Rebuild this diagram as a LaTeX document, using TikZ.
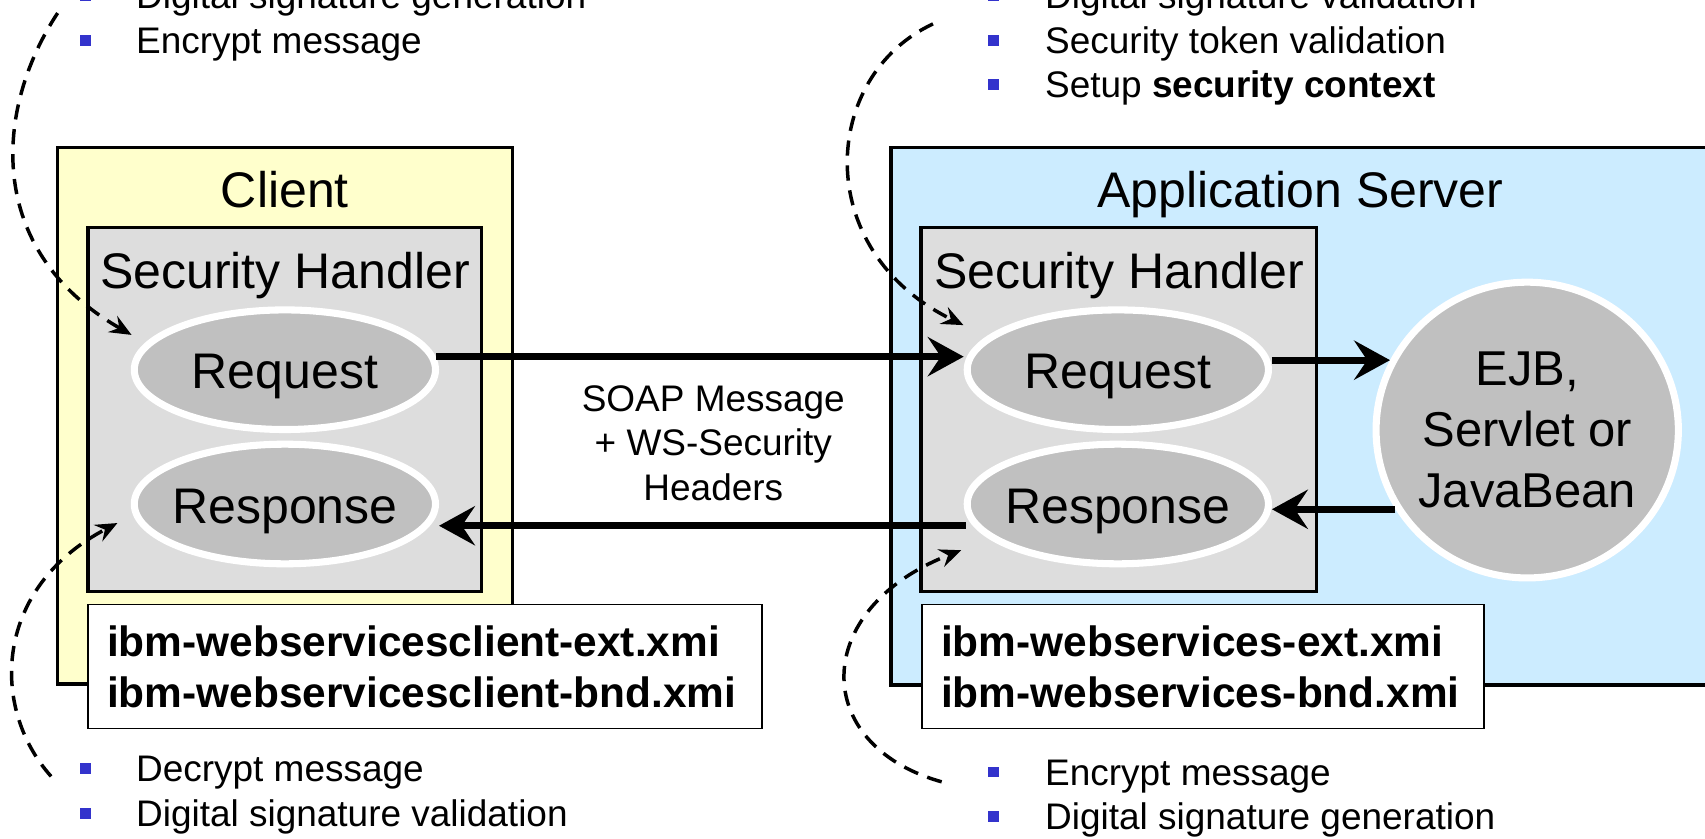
\documentclass[tikz,border=0pt]{standalone}
\usepackage{fontspec}
\setmainfont{Liberation Sans}
\usetikzlibrary{arrows.meta,calc,shapes.geometric}
\definecolor{cyellow}{HTML}{FFFFCC}
\definecolor{cblue}{HTML}{CCECFF}
\definecolor{shgray}{HTML}{DDDDDD}
\definecolor{elgray}{HTML}{C0C0C0}
\definecolor{bulblue}{HTML}{3333CC}
\begin{document}
\begin{tikzpicture}[x=1pt,y=-1pt,
  outerbox/.style={draw=black,line width=3pt,rectangle,inner sep=0pt},
  shbox/.style={draw=black,line width=3pt,fill=shgray,rectangle,inner sep=0pt},
  oval/.style={ellipse,draw=white,line width=6.5pt,fill=elgray,inner ysep=0pt,inner xsep=-50pt,minimum width=277pt,minimum height=110pt,font=\fontsize{46}{55}\selectfont,text height=35pt,text depth=0pt},
  title/.style={anchor=base,inner sep=0pt,font=\fontsize{46}{55}\selectfont},
  xmibox/.style={draw=black,line width=1.5pt,fill=white,rectangle,inner xsep=17.5pt,inner ysep=0pt,minimum height=114pt,align=left,font=\fontsize{39}{47}\selectfont\bfseries},
  bigarrow/.style={line width=6.5pt,-{Stealth[length=33pt,width=36pt,inset=12pt]}},
  dasharrow/.style={line width=3.2pt,dash pattern=on 14pt off 9pt,-{Stealth[length=20pt,width=17pt,inset=7pt]}},
  btxt/.style={anchor=base west,inner sep=0pt,font=\fontsize{34}{41}\selectfont},
  bul/.style={fill=bulblue,rectangle,inner sep=0pt,minimum size=10pt},
  msg/.style={inner sep=0pt,align=center,font=\fontsize{34}{41}\selectfont}
]
\useasboundingbox (0,0) rectangle (1568,771);
\clip (0,0) rectangle (1568,771);

% outer boxes
\node[outerbox,fill=cblue,minimum width=800.5pt,minimum height=494.5pt] (server) at (1219.75,382.75) {};
\node[outerbox,fill=cyellow,minimum width=418pt,minimum height=493.5pt] (client) at (262,382.25) {};
\node[title] (clienttitle) at (262,191) {Client};
\node[title] (servertitle) at (1196,191) {Application Server};

% security handlers
\node[shbox,minimum width=362pt,minimum height=335pt] (csh) at (262,376.5) {};
\node[shbox,minimum width=364pt,minimum height=335pt] (ssh) at (1029,376.5) {};
\node[title] (cshtitle) at (262,265) {Security Handler};
\node[title] (sshtitle) at (1029,265) {Security Handler};

% ellipses
\node[oval] (creq) at (262,340) {Request};
\node[oval] (cresp) at (262,463.5) {Response};
\node[oval] (sreq) at (1028,340) {Request};
\node[oval] (sresp) at (1028,463.5) {Response};
\node[ellipse,draw=white,line width=6.5pt,fill=elgray,inner ysep=0pt,inner xsep=-30pt,minimum width=278pt,minimum height=272pt,align=center,font=\fontsize{45}{56}\selectfont] (ejb) at (1404.5,395.5) {EJB,\\Servlet or\\JavaBean};

% xmi boxes
\node[xmibox,text width=585pt] (cxmi) at (391,613) {ibm-webservicesclient-ext.xmi\\ibm-webservicesclient-bnd.xmi};
\node[xmibox,text width=482pt] (sxmi) at (1106.5,613) {ibm-webservices-ext.xmi\\ibm-webservices-bnd.xmi};

% message label
\node[msg] (soap) at (656,407.6) {SOAP Message\\+ WS-Security\\Headers};

% solid arrows
\draw[bigarrow] ($(creq.east)+(-3,-12)$) -- ($(sreq.west)+(0,-12)$);
\draw[bigarrow] ($(sresp.west)+(2,20)$) -- ($(cresp.east)+(0,20)$);
\draw[bigarrow] (sreq.east |- ejb.153.8) -- (ejb.153.8);
\draw[bigarrow] (ejb.211) -- (sresp.east |- ejb.211);

% dashed arrows
\coordinate (tls) at (53,12);
\coordinate (tle) at (121,308);
\coordinate (bls) at (47,714);
\coordinate (ble) at (108,481);
\coordinate (trs) at (858,22);
\coordinate (tre) at (886,299);
\coordinate (brs) at (866,719);
\coordinate (bre) at (884,506);
\draw[dasharrow] (tls) .. controls (-5,100) and (-15,230) .. (tle);
\draw[dasharrow] (bls) .. controls (-10,650) and (-5,540) .. (ble);
\draw[dasharrow] (trs) .. controls (755,70) and (745,230) .. (tre);
\draw[dasharrow] (brs) .. controls (745,685) and (745,560) .. (bre);

% bullet lists
\node[bul] (b1) at (79,-4) {};
\node[btxt] (t1) at (125,8) {Digital signature generation};
\node[bul] (b2) at (79,37) {};
\node[btxt] (t2) at (125,49) {Encrypt message};

\node[bul] (b3) at (914,-4) {};
\node[btxt] (t3) at (961,8) {Digital signature validation};
\node[bul] (b4) at (914,37) {};
\node[btxt] (t4) at (961,49) {Security token validation};
\node[bul] (b5) at (914,78) {};
\node[btxt] (t5) at (961,90) {Setup \textbf{security context}};

\node[bul] (b6) at (79,707) {};
\node[btxt] (t6) at (125,719) {Decrypt message};
\node[bul] (b7) at (79,748) {};
\node[btxt] (t7) at (125,760) {Digital signature validation};

\node[bul] (b8) at (914,710) {};
\node[btxt] (t8) at (961,722) {Encrypt message};
\node[bul] (b9) at (914,751) {};
\node[btxt] (t9) at (961,763) {Digital signature generation};
\end{tikzpicture}
\end{document}
